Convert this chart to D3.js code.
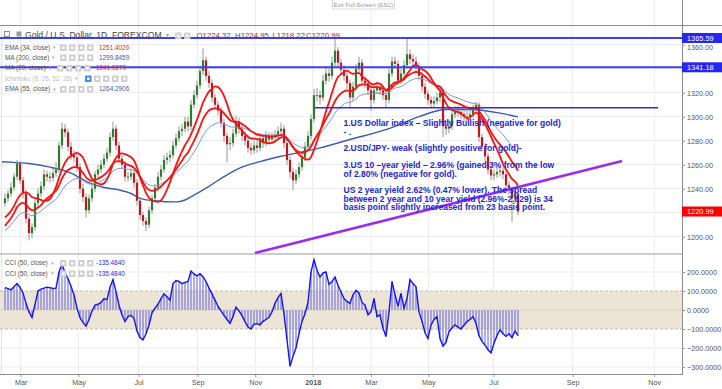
<!DOCTYPE html>
<html><head><meta charset="utf-8">
<script src="https://cdn.jsdelivr.net/npm/d3@7"></script>
<style>body{margin:0;background:#fff;} svg{display:block;font-family:"Liberation Sans",Arial,sans-serif;}</style>
</head><body><svg id="c" width="722" height="389"></svg>
<script>
// ---------- DATA ----------
const firstOpen = 1228;
const closes = [1232,1236,1241,1250,1261,1247,1236,1215,1203,1208,
 1228,1236,1242,1252,1250,1249,1253,1256,1276,1290,
 1287,1275,1268,1266,1258,1240,1233,1222,1232,1240,
 1252,1256,1260,1265,1270,1283,1290,1276,1265,1260,
 1250,1250,1253,1245,1230,1218,1213,1210,1222,1232,
 1241,1250,1256,1264,1266,1268,1276,1282,1288,1290,
 1296,1292,1310,1318,1326,1338,1347,1334,1328,1316,
 1310,1305,1295,1284,1277,1278,1286,1296,1290,1284,
 1280,1274,1272,1276,1274,1282,1278,1284,1281,1283,
 1285,1288,1290,1278,1264,1254,1247,1252,1258,1266,
 1275,1284,1298,1318,1318,1316,1330,1336,1334,1345,
 1355,1345,1339,1334,1328,1316,1325,1340,1345,1330,
 1328,1322,1314,1322,1325,1322,1318,1314,1336,1346,
 1344,1330,1336,1343,1352,1348,1346,1342,1334,1325,
 1319,1314,1311,1313,1316,1320,1292,1290,1292,1302,
 1305,1304,1302,1300,1300,1302,1306,1310,1283,1275,
 1267,1256,1251,1252,1254,1255,1252,1243,1239,1232,
 1236,1220.99];
const highs = [1236,1239,1245,1253,1264,1263,1250,1239,1217,1211,
 1231,1240,1246,1256,1255,1254,1257,1262,1279,1295,
 1294,1290,1279,1272,1270,1261,1244,1236,1235,1244,
 1255,1260,1264,1269,1274,1287,1296,1293,1279,1268,
 1263,1254,1257,1256,1248,1233,1221,1216,1225,1235,
 1244,1254,1260,1268,1270,1272,1280,1286,1292,1294,
 1300,1300,1314,1322,1330,1342,1357,1350,1338,1331,
 1319,1313,1308,1298,1287,1283,1290,1301,1299,1293,
 1288,1283,1278,1280,1280,1286,1285,1288,1287,1287,
 1289,1292,1295,1293,1281,1267,1257,1256,1262,1270,
 1279,1288,1302,1323,1324,1322,1335,1341,1340,1350,
 1366,1358,1348,1343,1337,1331,1329,1344,1350,1348,
 1334,1331,1325,1326,1329,1328,1325,1321,1340,1350,
 1350,1347,1340,1347,1366,1356,1352,1350,1345,1337,
 1328,1322,1317,1317,1320,1324,1323,1296,1297,1306,
 1309,1309,1308,1306,1305,1306,1310,1312,1312,1286,
 1278,1270,1259,1256,1258,1259,1258,1255,1246,1242,
 1239,1237];
const lows = [1225,1229,1233,1238,1247,1244,1232,1211,1197,1199,
 1205,1225,1233,1239,1246,1245,1246,1250,1253,1273,
 1283,1271,1264,1262,1254,1236,1229,1216,1219,1229,
 1237,1249,1253,1257,1262,1267,1280,1272,1261,1256,
 1246,1246,1247,1241,1226,1214,1209,1205,1207,1219,
 1229,1238,1247,1253,1260,1262,1265,1273,1279,1284,
 1287,1288,1289,1307,1315,1323,1335,1330,1324,1312,
 1306,1301,1291,1279,1262,1272,1275,1283,1286,1280,
 1276,1270,1268,1269,1270,1271,1274,1275,1277,1278,
 1280,1282,1285,1274,1260,1249,1239,1244,1249,1255,
 1263,1272,1281,1295,1313,1310,1313,1327,1329,1331,
 1342,1341,1335,1330,1323,1308,1313,1322,1337,1326,
 1324,1318,1305,1311,1319,1318,1314,1308,1311,1333,
 1340,1326,1327,1333,1340,1344,1342,1338,1330,1321,
 1315,1310,1307,1308,1310,1312,1283,1285,1286,1289,
 1299,1300,1298,1296,1296,1297,1299,1303,1279,1271,
 1263,1252,1247,1247,1249,1250,1248,1239,1235,1212,
 1228,1218];
const cciValues = [118,112,106,122,139,120,90,35,-10,-40,
 30,100,110,115,120,118,113,115,200,244,
 195,165,125,80,10,-40,-65,-85,-50,-5,
 26,30,40,60,55,120,160,95,25,-26,
 -61,-35,-28,-45,-110,-145,-157,-125,-80,-15,
 10,30,60,85,70,52,139,155,150,139,
 145,150,205,190,180,191,175,150,115,85,
 52,20,-5,-28,-50,-70,-35,15,-5,-30,
 -61,-90,-100,-75,-72,-78,-60,-50,-38,-10,
 35,65,87,-20,-157,-296,-244,-200,-125,-60,
 -20,40,200,265,209,174,195,200,135,150,
 174,130,95,60,45,35,80,104,90,40,
 26,-26,-9,61,-35,-26,-96,-140,-10,150,
 80,20,87,10,60,160,139,122,-10,-60,
 -120,-150,-80,-50,-35,-150,-190,-170,-115,-95,
 -78,-90,-100,-80,-61,-50,-35,-70,-135,-165,
 -185,-209,-226,-175,-135,-104,-125,-139,-125,-145,
 -110,-135.484];
// MA(200): [bar index, value]
const ma200Points = [[-1,1262.5],[4,1261.7],[8,1261],[15,1258],[22,1253],[28,1245],[33,1241],[38,1239],[42,1236],[45,1232],[50,1230],[57,1229],[60,1230.6],[63,1234.7],[68,1242],[73,1250],[78,1257],[85,1262.5],[92,1267],[105,1274],[115,1281],[128,1290],[138,1300],[147,1306],[155,1306],[165,1303],[171,1299.85]];
// indicator settings (periods in bars of this series) and warm-up seeds read at the left edge
const ma20Period = 9, ema34Period = 16, ema55Period = 26;
const ma20Seed = 1214, ema34Seed = 1206, ema55Seed = 1203;
const resistanceLevels = [1365.59, 1341.18];
const supportLevel = 1307.5, supportRange = [103.3, 217.7];
const trendLine = [[83.3, 1186.4], [205.7, 1263]];
const lastPrice = 1220.99;
const monthIdx = [5.2,24.5,44.5,64.2,83.4,102.6,122,141.1,162.8,189.2,216.4];
const monthLbl = ["Mar","May","Jul","Sep","Nov","2018","Mar","May","Jul","Sep","Nov"];
const priceGrid = [1200,1220,1240,1260,1280,1300,1320,1340,1360];
const priceLabels = [1200,1240,1260,1280,1300,1320,1360];   // 1220 and 1340 sit under the price tags
const cciTicks = [200,100,0,-100,-200,-300];
const noteLines = [
 "1.US Dollar index \u2013 Slightly Bullish (negative for gold)",
 "- .",
 "2.USD/JPY- weak (slightly positive for gold)-",
 "3.US 10 \u2013year yield \u2013 2.96% (gained 3% from the low",
 "of 2.80% (negative for gold).",
 "US 2 year yield  2.62% (0.47% lower). The spread",
 "between 2 year and 10 year yield (2.96%-2.629) is 34",
 "basis point slightly increased from 23 basis point."
];
const noteY = [126, 134.5, 151, 168, 176.5, 193, 201.5, 210];

// ---------- SCALES ----------
const W = 722, axisX = 682;
const svg = d3.select("#c");
const x = d3.scaleLinear().domain([0, 171]).range([5, 518]);
const yP = d3.scaleLinear().domain([1200, 1360]).range([236.7, 44.7]);
const yC = d3.scaleLinear().domain([-100, 100]).range([329, 291]);

const defs = svg.append("defs");
defs.append("clipPath").attr("id","cp").append("rect").attr("x",0).attr("y",26).attr("width",axisX).attr("height",228);
defs.append("clipPath").attr("id","cc").append("rect").attr("x",0).attr("y",254.5).attr("width",axisX).attr("height",119.5);

// ---------- GRID ----------
const grid = svg.append("g");
grid.selectAll(".vg").data(monthIdx).join("line")
  .attr("x1", d => x(d)).attr("x2", d => x(d)).attr("y1", 0).attr("y2", 374)
  .attr("stroke", "#ececec").attr("stroke-width", 1);
grid.selectAll(".hg").data(priceGrid).join("line")
  .attr("x1", 0).attr("x2", axisX).attr("y1", d => yP(d)).attr("y2", d => yP(d))
  .attr("stroke", "#ececec");
grid.selectAll(".cg").data([200,-200,-300]).join("line")
  .attr("x1", 0).attr("x2", axisX).attr("y1", d => yC(d)).attr("y2", d => yC(d))
  .attr("stroke", "#ececec");
grid.append("line").attr("x1",1.5).attr("x2",1.5).attr("y1",26).attr("y2",374).attr("stroke","#e4e4e4");

// CCI band
svg.append("rect").attr("x",0).attr("width",axisX).attr("y",yC(100)).attr("height",yC(-100)-yC(100)).attr("fill","#ece4d4");
svg.append("line").attr("x1",0).attr("x2",axisX).attr("y1",yC(0)).attr("y2",yC(0)).attr("stroke","#ddd3c0");
[100,-100].forEach(v => svg.append("line").attr("x1",0).attr("x2",axisX).attr("y1",yC(v)).attr("y2",yC(v))
  .attr("stroke","#b8b0a0").attr("stroke-dasharray","3,2").attr("stroke-width",0.8));

// ---------- PRICE PANE ----------
const pg = svg.append("g").attr("clip-path","url(#cp)");
const opens = closes.map((c,i) => i ? closes[i-1] : firstOpen);

function sma(period, seed){
  return closes.map((c,i)=>{ let s=0; for(let j=i-period+1;j<=i;j++) s += j<0 ? seed : closes[j]; return s/period; });
}
function ema(period, seed){
  const a = 2/(period+1); let e = seed;
  return closes.map(c => (e = e + a*(c-e)));
}
const ma20 = sma(ma20Period, ma20Seed), ema34 = ema(ema34Period, ema34Seed), ema55 = ema(ema55Period, ema55Seed);
const line = d3.line().x(d=>x(d[0])).y(d=>yP(d[1])).curve(d3.curveMonotoneX);

pg.append("path").datum(ma200Points).attr("d", line).attr("fill","none").attr("stroke","#3a5cb4").attr("stroke-width",1.4);

const cg = pg.append("g");
closes.forEach((c,i)=>{
  const o = opens[i], up = c >= o;
  cg.append("line").attr("x1",x(i)).attr("x2",x(i)).attr("y1",yP(highs[i])).attr("y2",yP(lows[i]))
    .attr("stroke","#8a8a8a").attr("stroke-width",0.9);
  const top = yP(Math.max(o,c)), bot = yP(Math.min(o,c));
  cg.append("rect").attr("x",x(i)-1.1).attr("width",2.2).attr("y",top).attr("height",Math.max(1,bot-top))
    .attr("fill", up ? "#2e7d2e" : "#c3161c");
});

pg.append("path").datum(ema55.map((v,i)=>[i,v])).attr("d",line).attr("fill","none").attr("stroke","#7d98d8").attr("stroke-width",1);
pg.append("path").datum(ema34.map((v,i)=>[i,v])).attr("d",line).attr("fill","none").attr("stroke","#ff1010").attr("stroke-width",1.8);
pg.append("path").datum(ma20.map((v,i)=>[i,v])).attr("d",line).attr("fill","none").attr("stroke","#ff1010").attr("stroke-width",1.8);

resistanceLevels.forEach(v => pg.append("line").attr("x1",0).attr("x2",axisX).attr("y1",yP(v)).attr("y2",yP(v))
  .attr("stroke","#3f3ff2").attr("stroke-width",2));
pg.append("line").attr("x1",x(supportRange[0])).attr("x2",x(supportRange[1])).attr("y1",yP(supportLevel)).attr("y2",yP(supportLevel))
  .attr("stroke","#2a2af0").attr("stroke-width",1.6);
pg.append("line").attr("x1",x(trendLine[0][0])).attr("y1",yP(trendLine[0][1])).attr("x2",x(trendLine[1][0])).attr("y2",yP(trendLine[1][1]))
  .attr("stroke","#9a2cf0").attr("stroke-width",2.6);

const ng = svg.append("g").attr("font-size","8.5px").attr("font-weight","bold").attr("fill","#2424dc");
noteLines.forEach((t,k) => ng.append("text").attr("x",343.5).attr("y",noteY[k]).text(t));

// ---------- CCI PANE ----------
const ccg = svg.append("g").attr("clip-path","url(#cc)");
ccg.selectAll(".hb").data(cciValues).join("rect")
  .attr("x",(d,i)=>x(i)-0.6).attr("width",1.2)
  .attr("y",d=>Math.min(yC(0),yC(d))).attr("height",d=>Math.abs(yC(d)-yC(0)))
  .attr("fill","#7878e6");
ccg.append("path").datum(cciValues.map((v,i)=>[i,v]))
  .attr("d", d3.line().x(d=>x(d[0])).y(d=>yC(d[1])))
  .attr("fill","none").attr("stroke","#1414f0").attr("stroke-width",1.4);

// ---------- FRAME ----------
svg.append("line").attr("x1",0).attr("x2",W).attr("y1",25.5).attr("y2",25.5).attr("stroke","#8c8c8c");
svg.append("line").attr("x1",0).attr("x2",axisX).attr("y1",254).attr("y2",254).attr("stroke","#9a9a9a");
svg.append("line").attr("x1",0).attr("x2",axisX).attr("y1",374.5).attr("y2",374.5).attr("stroke","#8c8c8c");
svg.append("line").attr("x1",axisX+0.5).attr("x2",axisX+0.5).attr("y1",0).attr("y2",375).attr("stroke","#8c8c8c");

// ---------- AXES ----------
const axP = svg.append("g").attr("transform",`translate(${axisX},0)`);
axP.call(d3.axisRight(yP).tickValues(priceLabels).tickSize(3).tickFormat(d3.format(".2f")));
const axC = svg.append("g").attr("transform",`translate(${axisX},0)`);
axC.call(d3.axisRight(yC).tickValues(cciTicks).tickSize(3).tickFormat(d3.format(".4f")));
[axP, axC].forEach(a => {
  a.select(".domain").remove();
  a.selectAll(".tick line").attr("stroke","#999");
  a.selectAll(".tick text").attr("font-size","7.2px").attr("fill","#555").attr("x",5).attr("font-family","Liberation Sans, Arial, sans-serif");
});
// the 1360 label sits partly under the 1365.59 tag in the reference; nudge it just below the tag
axP.selectAll(".tick text").filter(d => d === 1360).attr("dy","0.62em");
const axT = svg.append("g").attr("transform","translate(0,375)");
axT.call(d3.axisBottom(x).tickValues(monthIdx).tickSize(2).tickFormat((d,i)=>monthLbl[i]));
axT.select(".domain").remove();
axT.selectAll(".tick line").attr("stroke","#999");
axT.selectAll(".tick text").attr("font-size","7.2px").attr("fill","#555").attr("y",5)
  .attr("font-family","Liberation Sans, Arial, sans-serif")
  .attr("font-weight",(d,i)=>monthLbl[i]==="2018"?"bold":"normal");

function tag(v, col){
  const g = svg.append("g");
  g.append("rect").attr("x",axisX).attr("y",yP(v)-5).attr("width",40).attr("height",10).attr("fill",col);
  g.append("text").attr("x",axisX+5).attr("y",yP(v)).attr("dy","0.35em").attr("font-size","7.4px").attr("fill","#fff").text(d3.format(".2f")(v));
}
tag(resistanceLevels[0], "#2626f2");
tag(resistanceLevels[1], "#2626f2");
tag(lastPrice, "#ff0000");

// ---------- LEGENDS ----------
function icons(x0, y0, n, blueFirst){
  for(let k=0;k<n;k++){
    svg.append("rect").attr("x",x0+k*9).attr("y",y0-5.5).attr("width",6.5).attr("height",6.5).attr("rx",0.8)
      .attr("fill", (blueFirst && k===0) ? "#3c8ee8" : "#d0d0d0");
    svg.append("rect").attr("x",x0+k*9+2).attr("y",y0-3.5).attr("width",2.5).attr("height",2.5).attr("fill","#fff");
  }
}
svg.append("rect").attr("x",4.5).attr("y",31.5).attr("width",5).attr("height",5).attr("fill","none").attr("stroke","#777").attr("stroke-width",0.8);
svg.append("rect").attr("x",16.5).attr("y",31.5).attr("width",5).attr("height",5).attr("fill","#999");
svg.append("text").attr("x",25).attr("y",38).attr("font-size","8.6px").attr("fill","#444").text("Gold / U.S. Dollar, 1D, FOREXCOM");
svg.append("text").attr("x",166).attr("y",37).attr("font-size","6px").attr("fill","#999").text("\u25BE");
icons(175, 38, 2, false);
const ohlc = [["O","1224.32",196.5],["H","1224.95",235],["L","1218.22",272.5],["C","1220.99",306]];
ohlc.forEach(([k,v,xx]) => {
  const t = svg.append("text").attr("x",xx).attr("y",38).attr("font-size","7.8px");
  t.append("tspan").attr("fill","#555").text(k);
  t.append("tspan").attr("fill","#9b2b2b").text(v);
});
const legendRows = [
  {label:"EMA (34, close)", value:"1251.4020", color:"#f01a1a", y:49.5, ix:60, vx:99},
  {label:"MA (200, close)", value:"1299.8459", color:"#3b5aa8", y:59.5, ix:60, vx:99},
  {label:"MA (20, close)", value:"1241.9270", color:"#f01a1a", y:70, ix:57, vx:96},
  {label:"Ichimoku (9, 26, 52, 26)", value:null, color:null, y:80.5, ix:85, vx:0, faded:true},
  {label:"EMA (55, close)", value:"1264.2906", color:"#3b5aa8", y:91, ix:60, vx:99},
  {label:"CCI (50, close)", value:"-135.4840", color:"#2a2aff", y:265, ix:60, vx:96},
  {label:"CCI (50, close)", value:"-135.4840", color:"#2a2aff", y:275.5, ix:60, vx:96}
];
legendRows.forEach(r => {
  const t = svg.append("text").attr("x",5).attr("y",r.y).attr("font-size","6.4px").attr("fill", r.faded ? "#bdbdbd" : "#555").text(r.label);
  const w = t.node().getComputedTextLength();
  svg.append("text").attr("x",5+w+3).attr("y",r.y-0.5).attr("font-size","5px").attr("fill","#aaa").text("\u25BE");
  icons(r.ix, r.y+0.5, r.faded ? 5 : 4, !!r.faded);
  if (r.value) svg.append("text").attr("x",r.vx).attr("y",r.y).attr("font-size","6.4px").attr("fill",r.color).text(r.value);
});

svg.append("rect").attr("x",332.5).attr("y",-1).attr("width",62).attr("height",10).attr("fill","#fff").attr("stroke","#d8d8d8");
svg.append("text").attr("x",363.5).attr("y",6.5).attr("text-anchor","middle").attr("font-size","6px").attr("fill","#999").text("Exit Full Screen (ESC)");
</script></body></html>
